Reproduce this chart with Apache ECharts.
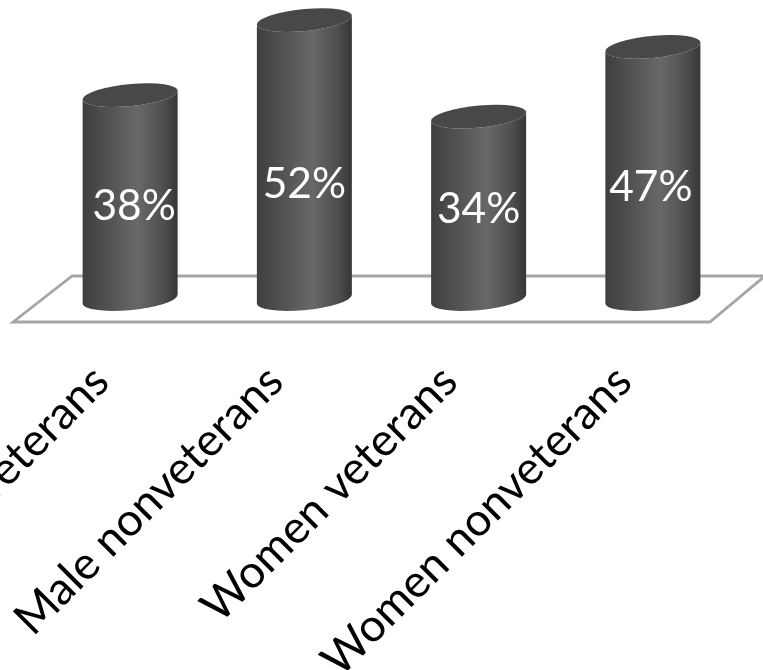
<!DOCTYPE html>
<html><head><meta charset="utf-8">
<style>html,body{margin:0;padding:0;background:#fff;overflow:hidden}#c{width:763px;height:670px}</style>
<script src="https://cdn.jsdelivr.net/npm/echarts@6/dist/echarts.min.js"></script>
</head><body><div id="c"></div>
<script>
const categories = ['Male veterans','Male nonveterans','Women veterans','Women nonveterans'];
const percentages = [38,52,34,47];
const labelDrop = [111,164,93,140];
const labelShift = [4,0,0,-2];

const chart = echarts.init(document.getElementById('c'), null, {renderer:'canvas'});
const RX = 47.5, TILT = 4.2, RY = 11, ROT = -5.5;

function cylinder(params, api){
  const i = api.value(0), v = api.value(1);
  const top = api.coord([i, v]), base = api.coord([i, 0]);
  const L = top[0]-RX, R = top[0]+RX;
  const body = `M ${L} ${top[1]+TILT} L ${L} ${base[1]+TILT} A ${RX} ${RY} ${ROT} 0 0 ${R} ${base[1]-TILT} L ${R} ${top[1]-TILT} A ${RX} ${RY} ${ROT} 0 1 ${L} ${top[1]+TILT} Z`;
  const cap = `M ${L} ${top[1]+TILT} A ${RX} ${RY} ${ROT} 0 1 ${R} ${top[1]-TILT} A ${RX} ${RY} ${ROT} 0 1 ${L} ${top[1]+TILT} Z`;
  return {type:'group',children:[
    {type:'path',shape:{pathData:body},style:{
      fill:new echarts.graphic.LinearGradient(0,0,1,0,[
        {offset:0,color:'#3e3e3e'},{offset:0.12,color:'#474747'},{offset:0.58,color:'#686868'},
        {offset:0.85,color:'#4e4e4e'},{offset:1,color:'#363636'}]),stroke:null}},
    {type:'path',shape:{pathData:cap},style:{fill:'#484848',stroke:null}},
    {type:'text',style:{text:percentages[i]+'%',x:top[0]+labelShift[i],y:top[1]+labelDrop[i],
      fill:'#fff',font:'42.5px Lato',align:'center',verticalAlign:'middle'}}
  ]};
}
function floor(params, api){
  const a = api.coord([0,0]), b = api.coord([3,0]);
  const y0 = a[1]-23, y1 = a[1]+23;
  return {type:'polygon',shape:{points:[[a[0]-58,y0],[b[0]+112,y0],[b[0]+57,y1],[a[0]-117,y1]]},
    style:{fill:'#fff',stroke:'#a6a6a6',lineWidth:2.8}};
}
chart.setOption({
  animation:false,
  backgroundColor:'#fff',
  grid:{left:43,top:4,width:697,height:295,containLabel:false,outerBoundsMode:'none'},
  xAxis:{type:'category',data:categories,axisLine:{show:false},axisTick:{show:false},
    axisLabel:{interval:0,rotate:45,margin:46,color:'#000',fontFamily:'Lato',fontSize:45.5,padding:[0,41,0,0],hideOverlap:false}},
  yAxis:{type:'value',min:0,max:55,show:false,splitLine:{show:false}},
  series:[
    {type:'custom',renderItem:floor,data:[[0,0]],silent:true,z:1},
    {type:'custom',renderItem:cylinder,data:percentages.map((v,i)=>[i,v]),encode:{x:0,y:1},silent:true,z:2}
  ]
});
</script></body></html>
